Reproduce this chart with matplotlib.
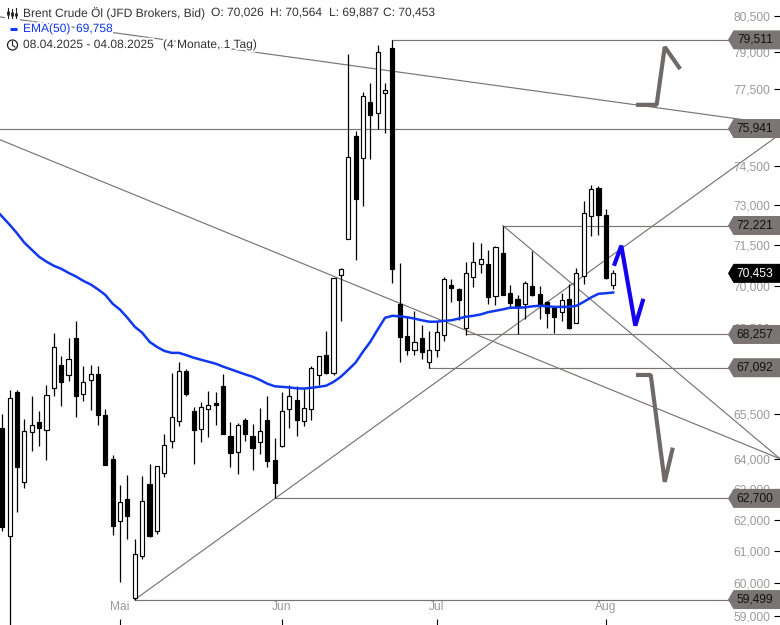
import numpy as np
import matplotlib
matplotlib.use('Agg')
import matplotlib.pyplot as plt
import matplotlib.patheffects as pe
from matplotlib.patches import Polygon, Circle, Rectangle

plt.rcParams['font.family'] = ['Liberation Sans', 'DejaVu Sans']

# Kerzen (Index 0 = linker Rand, Index 83 = 04.08.2025)
opens = [65.03, 61.50, 66.26, 63.24, 64.90, 65.23, 64.97, 66.40, 67.20, 66.84, 68.14, 66.19,
         66.67, 66.88, 65.47, 64.00, 61.98, 62.69, 59.56, 60.87, 63.18, 61.66, 63.54, 64.60,
         65.27, 66.98, 65.61, 65.00, 65.68, 65.88, 66.47, 64.77, 64.23, 65.30, 64.77, 64.57,
         65.30, 63.97, 64.43, 65.68, 65.98, 65.27, 65.68, 66.84, 67.54, 66.91, 70.40, 71.73,
         75.66, 74.80, 77.00, 76.56, 77.36, 79.18, 69.35, 68.21, 67.72, 68.14, 67.30, 67.72,
         68.25, 70.04, 69.89, 68.50, 70.32, 70.80, 70.80, 69.64, 71.21, 69.75, 69.53, 69.35,
         70.00, 69.71, 69.42, 69.24, 69.07, 69.53, 68.67, 70.36, 72.59, 73.65, 72.63, 70.026]
highs = [65.51, 66.33, 66.33, 65.34, 66.12, 65.61, 66.50, 68.32, 67.51, 68.14, 68.74, 67.16,
         67.20, 67.16, 65.68, 64.13, 63.14, 63.47, 61.41, 63.44, 63.84, 63.77, 64.84, 66.91,
         67.30, 67.06, 65.75, 65.92, 66.29, 66.26, 66.88, 65.23, 65.20, 65.37, 65.17, 65.71,
         66.12, 64.70, 66.26, 66.50, 66.47, 66.37, 67.16, 67.51, 68.39, 70.29, 70.66, 78.93,
         75.85, 77.40, 77.76, 79.30, 77.76, 79.51, 70.84, 68.89, 69.10, 68.60, 68.39, 68.71,
         70.32, 70.25, 69.93, 70.88, 71.62, 71.58, 71.32, 71.47, 72.22, 70.04, 69.67, 70.18,
         71.28, 70.00, 69.46, 69.24, 69.75, 70.07, 70.66, 73.15, 73.76, 73.72, 72.85, 70.564]
lows = [61.66, 58.50, 62.27, 63.05, 64.27, 64.43, 63.97, 66.12, 65.78, 66.64, 65.41, 65.95,
        65.64, 65.13, 63.80, 61.53, 60.05, 61.41, 59.50, 60.77, 61.47, 61.56, 63.41, 64.37,
        65.10, 66.12, 63.84, 64.57, 64.74, 65.13, 64.84, 63.74, 63.51, 64.60, 63.64, 64.17,
        63.74, 62.70, 64.40, 65.03, 64.77, 65.10, 65.30, 66.50, 66.88, 66.84, 68.74, 71.70,
        70.95, 72.96, 74.76, 75.94, 75.78, 70.11, 67.30, 67.54, 67.54, 67.41, 67.09, 67.47,
        68.03, 69.42, 68.78, 68.25, 69.96, 70.47, 69.35, 69.32, 69.67, 69.21, 68.28, 68.82,
        69.64, 68.82, 68.50, 68.32, 68.74, 68.46, 68.67, 70.07, 71.84, 71.88, 70.25, 69.887]
closes = [61.79, 66.05, 63.74, 64.93, 65.13, 65.03, 66.15, 67.82, 66.60, 67.41, 66.12, 66.60,
          66.88, 65.47, 63.80, 61.82, 62.59, 62.14, 60.93, 62.62, 61.50, 63.77, 64.47, 65.41,
          66.98, 66.19, 64.97, 65.75, 65.82, 65.82, 64.84, 64.20, 65.13, 64.84, 64.37, 64.93,
          63.94, 63.21, 65.61, 66.12, 65.30, 65.71, 67.09, 67.51, 66.91, 70.29, 70.62, 74.84,
          73.23, 77.24, 76.48, 79.01, 77.48, 70.62, 68.18, 67.72, 68.00, 67.65, 67.72, 68.35,
          70.25, 69.93, 69.50, 70.47, 70.88, 70.99, 69.60, 71.43, 69.67, 69.39, 69.24, 70.11,
          69.67, 69.35, 69.03, 68.89, 69.50, 68.50, 70.47, 72.70, 73.61, 72.63, 70.29, 70.453]
# EMA beginnt eine Kerze vor dem linken Rand
ema50 = [72.85, 72.55, 72.25, 71.93, 71.58, 71.32, 71.06, 70.88, 70.73, 70.62, 70.47, 70.34, 70.18,
         70.05, 69.87, 69.67, 69.35, 69.14, 68.85, 68.53, 68.32, 68.00, 67.82, 67.68, 67.61,
         67.61, 67.53, 67.44, 67.37, 67.30, 67.23, 67.13, 67.04, 66.95, 66.86, 66.78, 66.67,
         66.54, 66.45, 66.43, 66.41, 66.38, 66.37, 66.40, 66.43, 66.47, 66.60, 66.78, 67.02,
         67.27, 67.65, 68.00, 68.43, 68.85, 68.92, 68.90, 68.87, 68.82, 68.76, 68.71, 68.71,
         68.74, 68.76, 68.82, 68.89, 68.92, 68.97, 69.05, 69.10, 69.15, 69.21, 69.21, 69.22,
         69.26, 69.28, 69.26, 69.24, 69.24, 69.24, 69.28, 69.42, 69.58, 69.71, 69.73, 69.758]

# Achsen
month_idx = [16, 38, 59, 82]
month_labels = ['Mai', 'Jun', 'Jul', 'Aug']
price_ticks = [80.5, 79.0, 77.5, 76.0, 74.5, 73.0, 71.5, 70.0, 68.5, 67.0, 65.5, 64.0, 63.0, 62.0, 61.0, 60.0, 59.0]
price_labels = ['80,500', '79,000', '77,500', '76,000', '74,500', '73,000', '71,500', '70,000', '68,500',
                '67,000', '65,500', '64,000', '63,000', '62,000', '61,000', '60,000', '59,000']

# Horizontale Marken: Startindex, Kurs, Beschriftung
level_start = [53, -1, 68, 63, 58, 37, 18]
level_price = [79.511, 75.941, 72.221, 68.257, 67.092, 62.700, 59.499]
level_label = ['79,511', '75,941', '72,221', '68,257', '67,092', '62,700', '59,499']

# Trendlinien
trend_x = [(-0.31, 105.66), (-0.31, 105.66), (18, 105.66), (68, 105.66)]
trend_y = [(80.46, 76.09), (75.50, 64.0), (59.499, 75.72), (72.221, 64.0)]

# Eingezeichnete Pfeile
blue_x = [83.1, 84.1, 86.0, 87.1]
blue_y = [70.73, 71.47, 68.57, 69.53]
gray1_x = [86.1, 88.9, 90.0, 92.1]
gray1_y = [76.88, 76.88, 79.22, 78.32]
gray2_x = [86.1, 88.1, 90.0, 91.1]
gray2_y = [66.84, 66.84, 63.24, 64.37]

line_gray = '#7a7573'
tag_gray = '#7a7573'
text_gray = '#9a9a9a'
ema_blue = '#1038f0'

fig = plt.figure(figsize=(7.8, 6.25), dpi=100)
ax = fig.add_axes([0, 0, 1, 1])
ax.set_yscale('log')
ax.set_xlim(-0.3125, 105.66)
ax.set_ylim(58.72, 81.17)
for s in ax.spines.values():
    s.set_visible(False)

idx = np.arange(len(opens))
opens_a = np.array(opens)
closes_a = np.array(closes)
up = closes_a >= opens_a

for st, p in zip(level_start, level_price):
    ax.plot([st, 105.66], [p, p], color=line_gray, lw=0.85, zorder=1)
for xs, ys in zip(trend_x, trend_y):
    ax.plot(xs, ys, color=line_gray, lw=0.85, zorder=1)

ax.vlines(idx, lows, highs, color='black', lw=0.9, zorder=2)
body_low = np.minimum(opens_a, closes_a)
body_h = np.abs(closes_a - opens_a)
ax.bar(idx[up], body_h[up], bottom=body_low[up], width=0.56, facecolor='white', edgecolor='black', lw=0.85, zorder=3)
ax.bar(idx[~up], body_h[~up], bottom=body_low[~up], width=0.56, facecolor='black', edgecolor='black', lw=0.85, zorder=3)

ax.plot(np.arange(-1, len(opens)), ema50, color=ema_blue, lw=1.8, zorder=4)
ax.plot(gray1_x, gray1_y, color='#6f6a68', lw=3.0, solid_joinstyle='bevel', solid_capstyle='butt', zorder=5)
ax.plot(gray2_x, gray2_y, color='#6f6a68', lw=3.0, solid_joinstyle='bevel', solid_capstyle='butt', zorder=5)
ax.plot(blue_x, blue_y, color='#1400f0', lw=3.0, solid_joinstyle='bevel', solid_capstyle='butt', zorder=5)

ax.set_xticks(month_idx)
ax.set_xticklabels(month_labels)
ax.set_yticks(price_ticks)
ax.set_yticklabels(price_labels)
ax.minorticks_off()
ax.yaxis.tick_right()
ax.tick_params(axis='y', direction='in', length=4, width=0.8, pad=-7, labelsize=8.64, labelcolor=text_gray)
ax.tick_params(axis='x', direction='in', length=4, width=0.8, pad=-17, labelsize=8.64, labelcolor=text_gray)
for t in ax.get_yticklabels():
    t.set_ha('right')

# Overlay in Pixeln fuer Legende und Kursmarken
ov = fig.add_axes([0, 0, 1, 1], zorder=10)
ov.set_xlim(0, 780)
ov.set_ylim(625, 0)
ov.axis('off')


def price_to_px(p):
    return 625 - ax.transData.transform((0, p))[1]


def tag(p, txt, face, tc):
    y = price_to_px(p)
    ov.add_patch(Polygon([(728, y), (733.5, y - 9.5), (780, y - 9.5), (780, y + 9.5), (733.5, y + 9.5)],
                         closed=True, facecolor=face, edgecolor='none'))
    ov.text(773, y, txt, color=tc, fontsize=8.64, ha='right', va='center')


for p, lab in zip(level_price, level_label):
    tag(p, lab, tag_gray, '#111111')
tag(closes[-1], '70,453', 'black', 'white')

txt_c = '#333333'
halo = [pe.withStroke(linewidth=3, foreground='white')]


def legend_text(x, y, s, c=txt_c):
    ov.text(x, y, s, color=c, fontsize=8.64, va='center', path_effects=halo)


legend_text(23, 13, 'Brent Crude Öl (JFD Brokers, Bid)')
legend_text(211, 13, 'O: 70,026')
legend_text(270, 13, 'H: 70,564')
legend_text(329, 13, 'L: 69,887')
legend_text(383, 13, 'C: 70,453')
legend_text(23, 29, 'EMA(50)', ema_blue)
legend_text(76, 29, '69,758', ema_blue)
legend_text(23, 45, '08.04.2025 - 04.08.2025')
legend_text(163, 45, '(4 Monate, 1 Tag)')

# Symbole links
ov.add_patch(Rectangle((5, 6), 15, 46, facecolor='white', edgecolor='none'))
for xc, top, bot, b0, b1 in [(7.5, 8, 18, 11, 15), (11.5, 9, 18, 12, 16), (15.5, 8, 18, 13, 16)]:
    ov.plot([xc, xc], [top, bot], color='#222222', lw=0.8)
    ov.plot([xc, xc], [b0, b1], color='#222222', lw=2.0, solid_capstyle='butt')
ov.plot([9.5, 17], [29, 29], color=ema_blue, lw=2.2, solid_capstyle='butt')
ov.add_patch(Circle((12.5, 45), 5, facecolor='none', edgecolor='#222222', lw=0.9))
ov.plot([12.5, 12.5, 15], [41.5, 45.5, 47], color='#222222', lw=0.8)

fig.savefig('out.png', dpi=100)
